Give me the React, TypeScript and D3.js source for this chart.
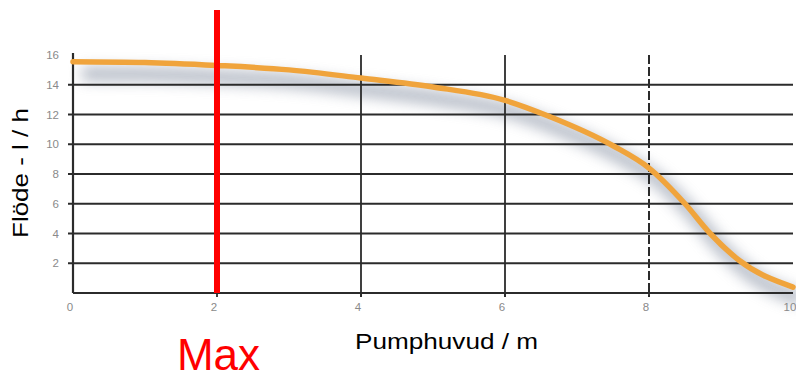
import React from "react";
import * as d3 from "d3";

const xTicks = [0, 2, 4, 6, 8, 10];
const yTicks = [2, 4, 6, 8, 10, 12, 14, 16];
const gridY = [2, 4, 6, 8, 10, 12, 14];
const solidVerticals = [4, 6];
const dashedVerticals = [8];
const maxHead = [2];
const curveX = [0, 1, 2, 3, 4, 5, 6, 6.6, 7.5, 8, 8.5, 8.85, 9.25, 10];
const curveY = [15.55, 15.5, 15.3, 15.0, 14.45, 13.85, 12.95, 11.9, 9.9, 8.4, 6.0, 4.0, 2.2, 0.4];

const W = 796;
const H = 379;

export default function App() {
  const x = d3.scaleLinear().domain([0, 10]).range([73, 793]);
  const y = d3.scaleLinear().domain([0, 16]).range([293, 55]);
  const pts: [number, number][] = curveX.map((v, i) => [v, curveY[i]]);
  const line = d3
    .line<[number, number]>()
    .x((d) => x(d[0]))
    .y((d) => y(d[1]))
    .curve(d3.curveMonotoneX);
  const path = line(pts) || "";
  const axisColor = "#2b2b2b";
  return (
    <svg
      width={W}
      height={H}
      style={{ position: "absolute", left: 0, top: 0, background: "#fff" }}
      fontFamily="'Liberation Sans', Arial, sans-serif"
    >
      <defs>
        <filter id="blur" x="-20%" y="-50%" width="140%" height="200%">
          <feGaussianBlur stdDeviation="7" />
        </filter>
      </defs>
      {/* shadow */}
      <path
        d={path}
        transform="translate(9,12)"
        fill="none"
        stroke="#848ea0"
        strokeWidth={14}
        opacity={0.6}
        filter="url(#blur)"
      />
      {/* horizontal gridlines */}
      {gridY.map((v) => (
        <line key={"g" + v} x1={x(0) - 5} x2={x(10)} y1={y(v)} y2={y(v)} stroke={axisColor} strokeWidth={1.8} />
      ))}
      {/* verticals */}
      {solidVerticals.map((v) => (
        <line key={"v" + v} x1={x(v)} x2={x(v)} y1={y(16)} y2={y(0) + 4} stroke={axisColor} strokeWidth={1.8} />
      ))}
      {dashedVerticals.map((v) => (
        <line
          key={"d" + v}
          x1={x(v)}
          x2={x(v)}
          y1={y(16)}
          y2={y(0) + 4}
          stroke={axisColor}
          strokeWidth={2}
          strokeDasharray="9,3"
        />
      ))}
      {/* axes */}
      <line x1={x(0)} x2={x(0)} y1={y(16) - 2} y2={y(0)} stroke={axisColor} strokeWidth={2.2} />
      <line x1={x(0)} x2={x(10)} y1={y(0)} y2={y(0)} stroke={axisColor} strokeWidth={2.2} />
      {xTicks.slice(1, 5).map((v) => (
        <line key={"t" + v} x1={x(v)} x2={x(v)} y1={y(0)} y2={y(0) + 4} stroke={axisColor} strokeWidth={1.8} />
      ))}
      {/* tick labels */}
      {yTicks.map((v) => (
        <text key={"yl" + v} x={59} y={y(v) + 4} textAnchor="end" fontSize={11.5} fill="#8a8a8a">
          {v}
        </text>
      ))}
      {xTicks.map((v) => (
        <text key={"xl" + v} x={x(v) - 3} y={311} textAnchor="middle" fontSize={11.5} fill="#8a8a8a">
          {v}
        </text>
      ))}
      {/* curve */}
      <path d={path} fill="none" stroke="#f0a43c" strokeWidth={5.5} strokeLinecap="round" />
      {/* max line */}
      {maxHead.map((v) => (
        <line key={"m" + v} x1={x(v)} x2={x(v)} y1={10} y2={y(0)} stroke="#ff0000" strokeWidth={6} />
      ))}
      {maxHead.map((v) => (
        <text key={"mt" + v} x={x(v) + 1.5} y={370} textAnchor="middle" fontSize={44} fill="#ff0000">
          Max
        </text>
      ))}
      <text
        x={355}
        y={349}
        fontSize={22}
        fill="#000"
        textLength={183}
        lengthAdjust="spacingAndGlyphs"
      >
        Pumphuvud / m
      </text>
      <text
        transform="translate(28,238) rotate(-90)"
        fontSize={22}
        fill="#000"
        textLength={130}
        lengthAdjust="spacingAndGlyphs"
      >
        Flöde - l / h
      </text>
    </svg>
  );
}
